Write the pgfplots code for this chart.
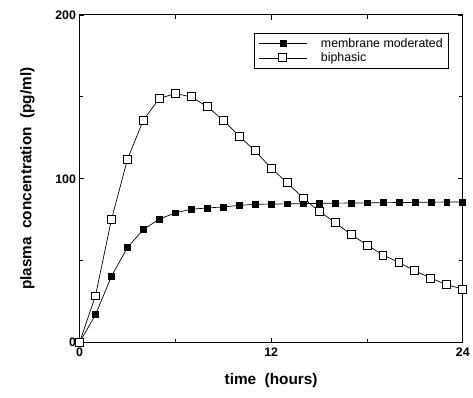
\documentclass[border=0pt]{standalone}
\usepackage{pgfplots}
\pgfplotsset{compat=1.18}
\usepackage{fontspec}
\setmainfont{Liberation Sans}
\begin{document}
\begin{tikzpicture}[x=1bp,y=1bp]
\begin{axis}[
  scale only axis,
  width=386bp, height=330bp,
  xmin=0, xmax=24, ymin=0, ymax=200,
  xtick={0,12,24}, ytick={0,100,200},
  minor xtick={6,18}, minor ytick={50,150},
  tick align=inside,
  major tick length=5bp, minor tick length=4bp,
  tick style={black, line width=0.8pt},
  axis line style={line width=1pt},
  ticklabel style={font=\fontsize{12.5}{14}\selectfont\bfseries},
  /pgf/number format/assume math mode=true,
  xticklabel style={yshift=-2bp},
  xlabel={\textbf{time\ \ (hours)}},
  ylabel={\textbf{plasma\ \ concentration\ \ (pg/ml)}},
  label style={font=\fontsize{15.5}{18}\selectfont},
  xlabel style={yshift=-10bp},
  ylabel style={yshift=14bp},
  clip=false,
  legend style={at={(0.964,0.945)}, anchor=north east, draw=black, line width=0.8pt,
    font=\fontsize{12.5}{15}\selectfont, row sep=0bp, inner xsep=4bp, inner ysep=3bp,
    /tikz/every odd column/.append style={column sep=12bp}},
  legend cell align=left,
  legend image code/.code={\draw[mark repeat=2,mark phase=2] plot coordinates {(0bp,0bp) (24bp,0bp) (48bp,0bp)};},
]
\addplot[black, line width=0.7pt, mark=square*, mark size=3bp, mark options={fill=black}]
coordinates {
(0,0) (1,17) (2,40.4) (3,58) (4,69) (5,75.4) (6,79.2) (7,81.4) (8,82.2) (9,82.8)
(10,83.8) (11,84.4) (12,84.6) (13,84.7) (14,84.8) (15,85) (16,85.1) (17,85.2)
(18,85.3) (19,85.4) (20,85.5) (21,85.6) (22,85.7) (23,85.8) (24,85.9)
};
\addlegendentry{membrane moderated}
\addplot[black, line width=0.7pt, mark=square*, mark size=4bp, mark options={fill=white, line width=0.9pt}]
coordinates {
(0,0) (1,28.5) (2,75) (3,111.7) (4,135.8) (5,149) (6,152) (7,150) (8,144) (9,135.8)
(10,126) (11,117) (12,106.5) (13,97.6) (14,88.3) (15,80.2) (16,73.3) (17,66)
(18,59.6) (19,53.5) (20,48.9) (21,43.8) (22,39.4) (23,35.3) (24,32.7)
};
\addlegendentry{biphasic}
\end{axis}
\path ([xshift=-80bp,yshift=-55bp]current axis.south west) rectangle ([xshift=7bp,yshift=15bp]current axis.north east);
\end{tikzpicture}
\end{document}
